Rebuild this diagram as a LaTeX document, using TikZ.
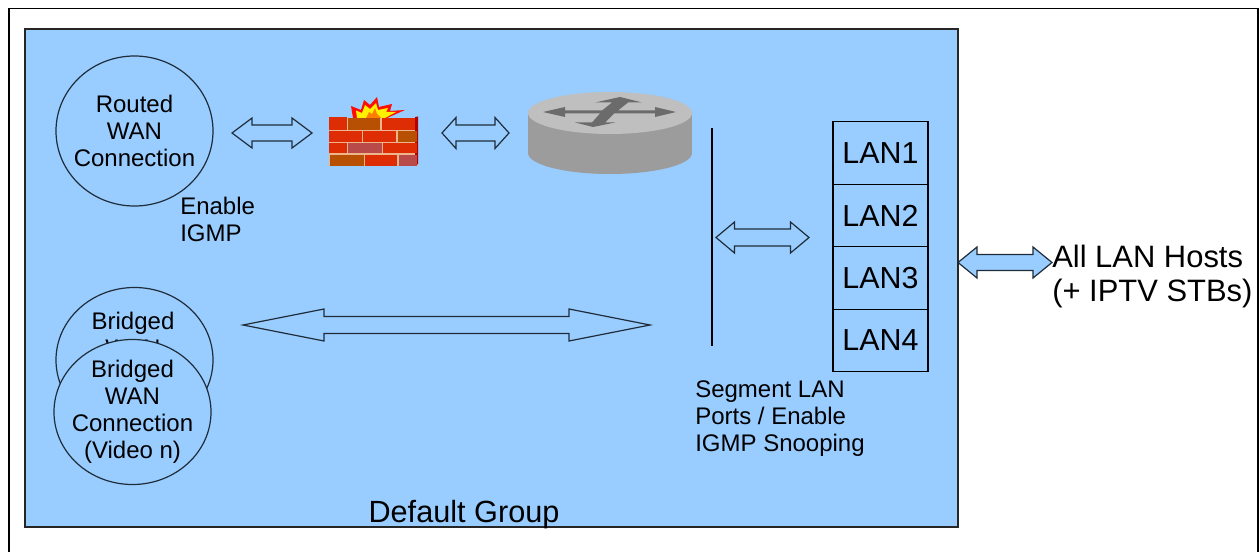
\documentclass[tikz,border=0pt]{standalone}
\usepackage{fontspec}
\setmainfont{Liberation Sans}
\usetikzlibrary{shapes.geometric}
\newcommand{\dblarrow}[7]{% x1 x2 y headlen halfhead halfshaft style
  \draw[#7] (#1,#3) -- ({#1+#4},{#3-#5}) -- ({#1+#4},{#3-#6}) -- ({#2-#4},{#3-#6}) -- ({#2-#4},{#3-#5}) -- (#2,#3) -- ({#2-#4},{#3+#5}) -- ({#2-#4},{#3+#6}) -- ({#1+#4},{#3+#6}) -- ({#1+#4},{#3+#5}) -- cycle;}
\definecolor{bluebg}{HTML}{99CCFF}
\definecolor{linec}{HTML}{1F2D3A}
\definecolor{brickred}{HTML}{DE2C04}
\definecolor{brickbrown}{HTML}{B85004}
\definecolor{brickrose}{HTML}{B84A4A}
\definecolor{mortar}{HTML}{EDB58A}
\tikzset{
  wan/.style={ellipse,draw=linec,line width=0.9pt,inner sep=0pt},
  wantext/.style={inner sep=0pt,align=center,font=\fontsize{18}{20.3}\selectfont},
  lbl/.style={inner sep=0pt,align=left,anchor=north west,font=\fontsize{18}{20.3}\selectfont},
  lan/.style={draw=black,line width=0.8pt,minimum width=71.25pt,minimum height=46.9pt,inner sep=0pt,font=\fontsize{22.8}{25}\selectfont},
  blockarrow/.style={draw=linec,line width=0.9pt,line join=miter},
}
\begin{document}
\begin{tikzpicture}[x=0.75pt,y=-0.75pt]
\useasboundingbox (0,0) rectangle (1259,552);
\fill[white] (0,0) rectangle (1259,552);
\draw[black,line width=0.8pt] (9,552) -- (9,8.5) -- (1258,8.5) -- (1258,552);
\draw[black!85,line width=1pt,fill=bluebg] (25,29) rectangle (958,527);
% WAN ellipses
\node[wan,minimum width=117.75pt,minimum height=112.5pt] (routed) at (134.5,131) {};
\node[wantext] (routedtext) at (routed.center) {Routed\\WAN\\Connection};
\node[wan,minimum width=117.75pt,minimum height=108.75pt,fill=bluebg] (bridgedA) at (134.5,360) {};
\node[wantext] (bridgedAtext) at (133,334) {Bridged\\WAN};
\node[wan,minimum width=117.75pt,minimum height=108.75pt,fill=bluebg] (bridgedB) at (132.5,412) {};
\node[wantext] (bridgedBtext) at (bridgedB.center) {Bridged\\WAN\\Connection\\(Video n)};
\node[lbl] (igmp) at (180,197) {Enable\\IGMP};
% firewall
\fill[red!90!orange] (351,106) -- (361,110) -- (364,100) -- (370,105) -- (377,97) -- (379,107) -- (392,104) -- (390,111) -- (405,110) -- (387,118) -- (353,118) -- cycle;
\fill[yellow] (356,110.5) -- (362,113) -- (365,105) -- (370,109) -- (376,103) -- (378,110) -- (388,108) -- (386,112) -- (396,112) -- (385,118) -- (357,118) -- cycle;
\fill[orange] (366,118) -- (369,112) -- (372,114) -- (375,108) -- (377,114) -- (381,118) -- cycle;
\fill[mortar] (329,118) rectangle (418,166);
\fill[red!70!black] (415,117) -- (418,116.5) -- (418,164) -- (415,166) -- cycle;
\foreach \xa/\ya/\xb/\yb/\c in {
  329/117/346.5/130/brickred, 347.5/118/380/130/brickbrown, 381.5/118/415/130/brickred,
  329/131.5/361.5/142/brickred, 363/131.5/396/142/brickred, 397.5/131.5/417/142/brickbrown,
  329/143.5/346.5/153.5/brickred, 348/143.5/381.5/153.5/brickrose, 382.5/143.5/417/153.5/brickred,
  330/155/364/166/brickbrown, 365/155/397/166/brickred, 399/155/417/166/brickrose}{
  \fill[\c] (\xa,\ya) rectangle (\xb,\yb);}
% router
\fill[gray!78] (528,113) rectangle (692,153);
\fill[gray!78] (610,153) ellipse[x radius=82,y radius=21];
\fill[gray!50] (610,113) ellipse[x radius=82,y radius=21];
\fill[black!58] (543,112) -- (565,107) -- (565,110.5) -- (602,110.5) -- (612,102.5) -- (595,102.5) -- (620,97) -- (642,102.5) -- (628,102.5) -- (618,110.5) -- (655,110.5) -- (655,107) -- (676,112) -- (655,117) -- (655,113.5) -- (614,113.5) -- (605,122.5) -- (615,122.5) -- (593,127) -- (575,122.5) -- (592,122.5) -- (600,113.5) -- (565,113.5) -- (565,117) -- cycle;
% LAN ports
\node[lan] (lan1) at (880.5,153) {LAN1};
\node[lan] (lan2) at (880.5,215.5) {LAN2};
\node[lan] (lan3) at (880.5,278) {LAN3};
\node[lan] (lan4) at (880.5,340.5) {LAN4};
% bus
\coordinate (busT) at (712,128);
\coordinate (busB) at (712,346);
\draw[black,line width=0.9pt] (busT) -- (busB);
\node[lbl] (seg) at (695,380.5) {Segment LAN\\Ports / Enable\\IGMP Snooping};
% arrows
\dblarrow{232}{312}{133}{20}{15}{8}{blockarrow}
\dblarrow{442}{509}{133}{14}{15.5}{8}{blockarrow}
\dblarrow{716}{809}{237.5}{18.5}{15.5}{8.5}{blockarrow}
\dblarrow{243}{650}{325}{81}{16}{8.5}{blockarrow}
\dblarrow{958}{1052}{262.5}{19}{15.5}{8}{blockarrow,fill=bluebg}
\node[inner sep=0pt,font=\fontsize{23.2}{26}\selectfont,align=left,anchor=north west] (hosts) at (1052,244.5) {All LAN Hosts\\(+ IPTV STBs)};
\node[inner sep=0pt,font=\fontsize{23}{25}\selectfont] (grp) at (464,515) {Default Group};
\end{tikzpicture}
\end{document}
